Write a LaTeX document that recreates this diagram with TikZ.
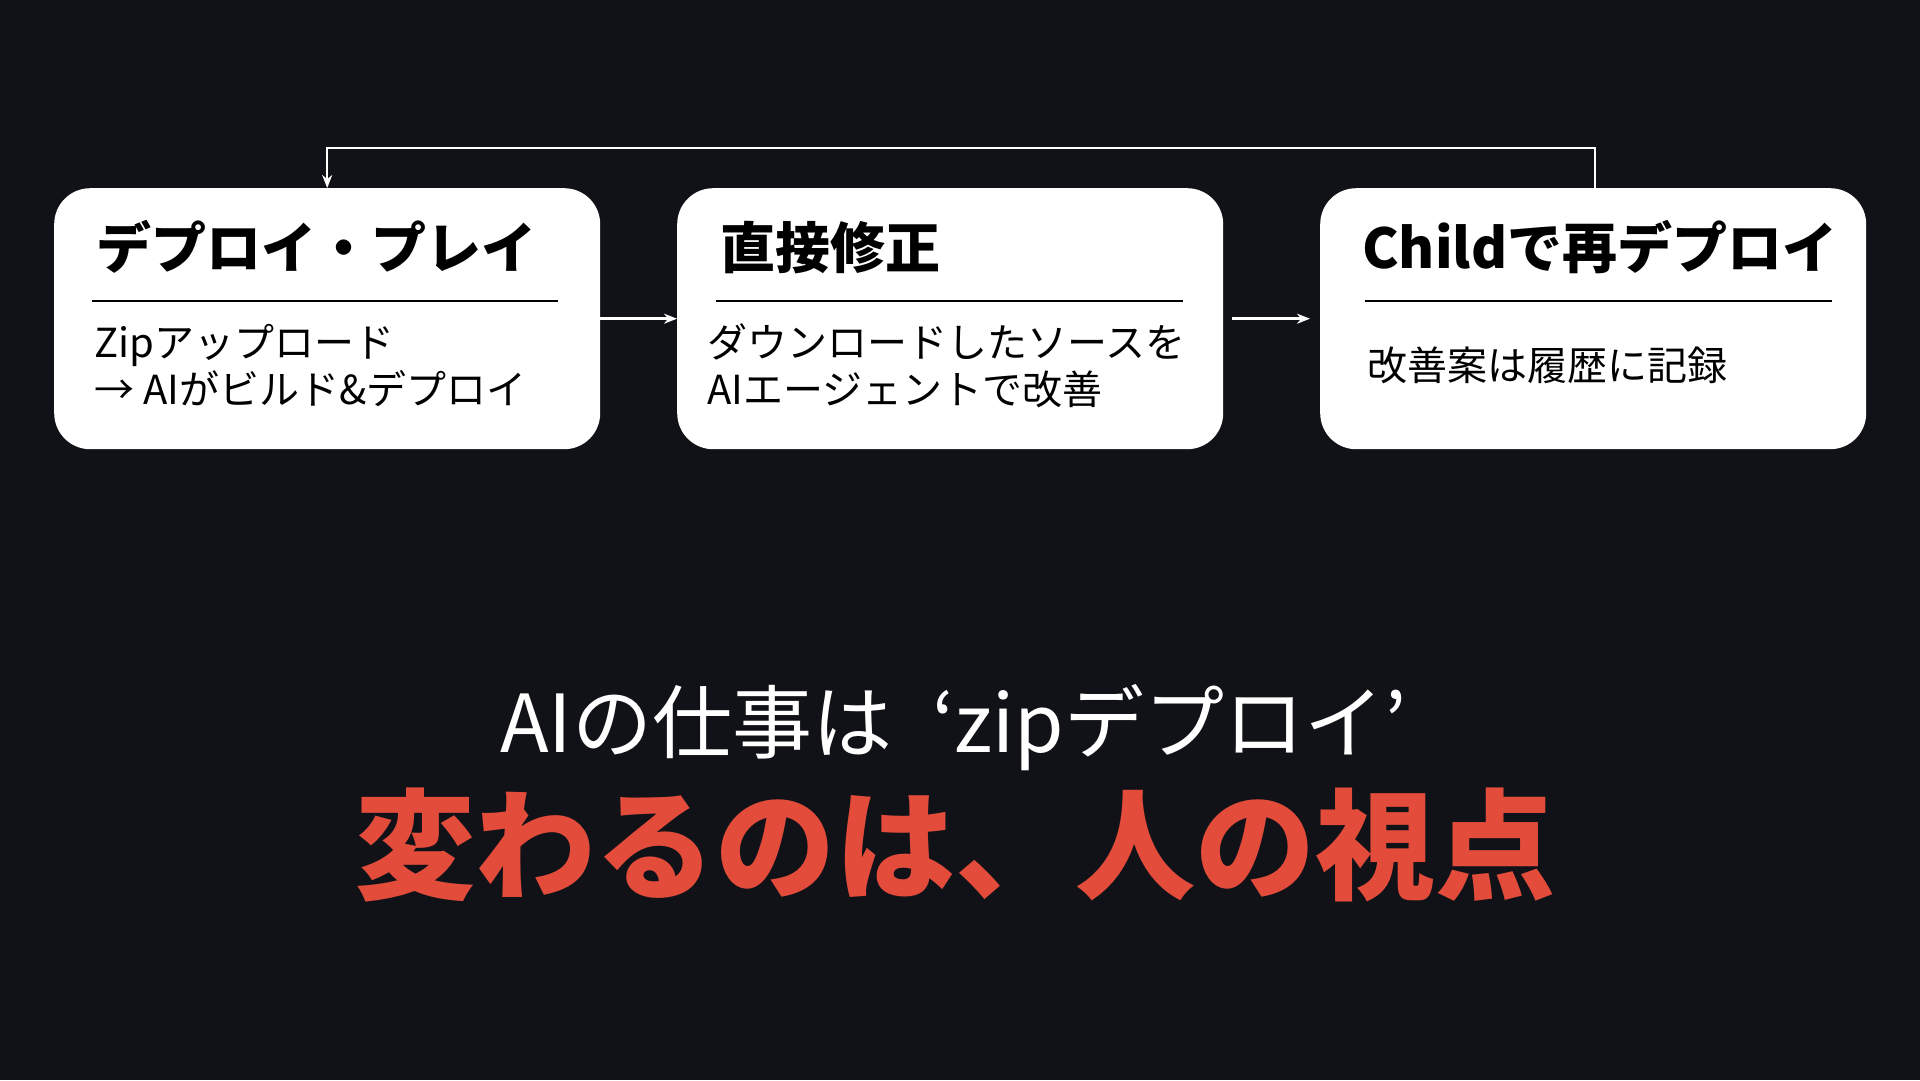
\documentclass[tikz,border=0pt]{standalone}
\usepackage{fontspec}
\setmainfont{Noto Sans CJK JP}
\usetikzlibrary{arrows.meta}
\definecolor{bg}{HTML}{111218}
\definecolor{accent}{HTML}{E34C3B}
\begin{document}
\begin{tikzpicture}[x=1pt,y=-1pt,
  card/.style={fill=white, rounded corners=36pt, inner sep=0, minimum width=546pt, minimum height=261pt, anchor=north west},
  ttl/.style={anchor=base west, inner sep=0, font=\fontsize{55}{60}\selectfont\bfseries, text=black},
  bdy/.style={anchor=base west, inner sep=0, font=\fontsize{40}{47}\selectfont, text=black},
  rulel/.style={line width=2.5pt, black},
  conn/.style={line width=2.5pt, white, -{Stealth[length=13pt,width=10pt]}}
]
\fill[bg] (0,0) rectangle (1920,1080);
\useasboundingbox (0,0) rectangle (1920,1080);

\node[card] (c1) at (54,188) {};
\node[card] (c2) at (677,188) {};
\node[card] (c3) at (1320,188) {};

\node[ttl] (t1) at (96,268) {デプロイ・プレイ};
\node[ttl] (t2) at (720,268) {直接修正};
\node[ttl] (t3) at (1362,268) {Childで再デプロイ};

\draw[rulel] (92,301) -- (558,301);
\draw[rulel] (716,301) -- (1183,301);
\draw[rulel] (1365,301) -- (1832,301);

\node[bdy] (b1a) at (94,357) {Zipアップロード};
\node[bdy] (b1b) at (94,404) {→ AIがビルド\&デプロイ};
\node[bdy] (b2a) at (707,357) {ダウンロードしたソースを};
\node[bdy] (b2b) at (707,404) {AIエージェントで改善};
\node[bdy] (b3a) at (1367,380) {改善案は履歴に記録};

\draw[conn] (c1.east) -- (c2.west);
\draw[conn, shorten <=9pt, shorten >=10pt] (c2.east) -- (c3.west);
\draw[conn] ([xshift=2pt]c3.north) -- ++(0,-40) -| (c1.north);

\node[anchor=base west, inner sep=0, font=\fontsize{80}{86}\selectfont, text=white] (sub) at (500,752) {AIの仕事は\hspace{40pt}‘zipデプロイ’};
\node[anchor=base, inner sep=0, font=\fontsize{120}{130}\selectfont\bfseries, text=accent] (head) at (955,890) {変わるのは、人の視点};
\end{tikzpicture}
\end{document}
